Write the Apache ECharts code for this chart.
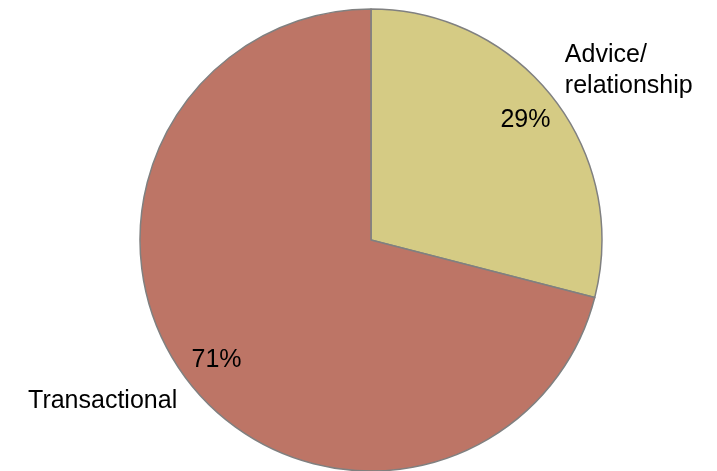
<!DOCTYPE html>
<html>
<head>
<meta charset="utf-8">
<script src="https://cdn.jsdelivr.net/npm/echarts@6/dist/echarts.min.js"></script>
<style>html,body{margin:0;padding:0;background:#fff;}#c{width:717px;height:471px;}</style>
</head>
<body>
<div id="c"></div>
<script>
const categories = ['Advice/\nrelationship', 'Transactional'];
const values = [29, 71];
const colors = ['#D5CB84', '#BD7566'];

const chart = echarts.init(document.getElementById('c'));
const font = 'Liberation Sans, Arial, sans-serif';
const outerLen = [{length: 46, length2: -30}, {length: 32, length2: -19}];

chart.setOption({
  animation: false,
  series: [
    {
      type: 'pie',
      center: [371, 240],
      radius: 231,
      startAngle: 90,
      clockwise: true,
      avoidLabelOverlap: false,
      itemStyle: {borderColor: '#808080', borderWidth: 1.5},
      label: {
        show: true,
        position: 'outside',
        color: '#000',
        fontFamily: font,
        fontSize: 25,
        lineHeight: 31
      },
      labelLine: {show: false},
      emphasis: {disabled: true},
      data: categories.map((n, i) => ({
        name: n, value: values[i],
        itemStyle: {color: colors[i]},
        labelLine: {show: false, length: outerLen[i].length, length2: outerLen[i].length2}
      }))
    },
    {
      type: 'pie',
      center: [371, 240],
      radius: [154, 231],
      startAngle: 90,
      clockwise: true,
      silent: true,
      itemStyle: {color: 'rgba(0,0,0,0)', borderWidth: 0},
      label: {
        show: true,
        position: 'inside',
        color: '#000',
        fontFamily: font,
        fontSize: 25,
        formatter: p => p.value + '%'
      },
      labelLine: {show: false},
      emphasis: {disabled: true},
      data: categories.map((n, i) => ({name: n, value: values[i]}))
    }
  ]
});
</script>
</body>
</html>
